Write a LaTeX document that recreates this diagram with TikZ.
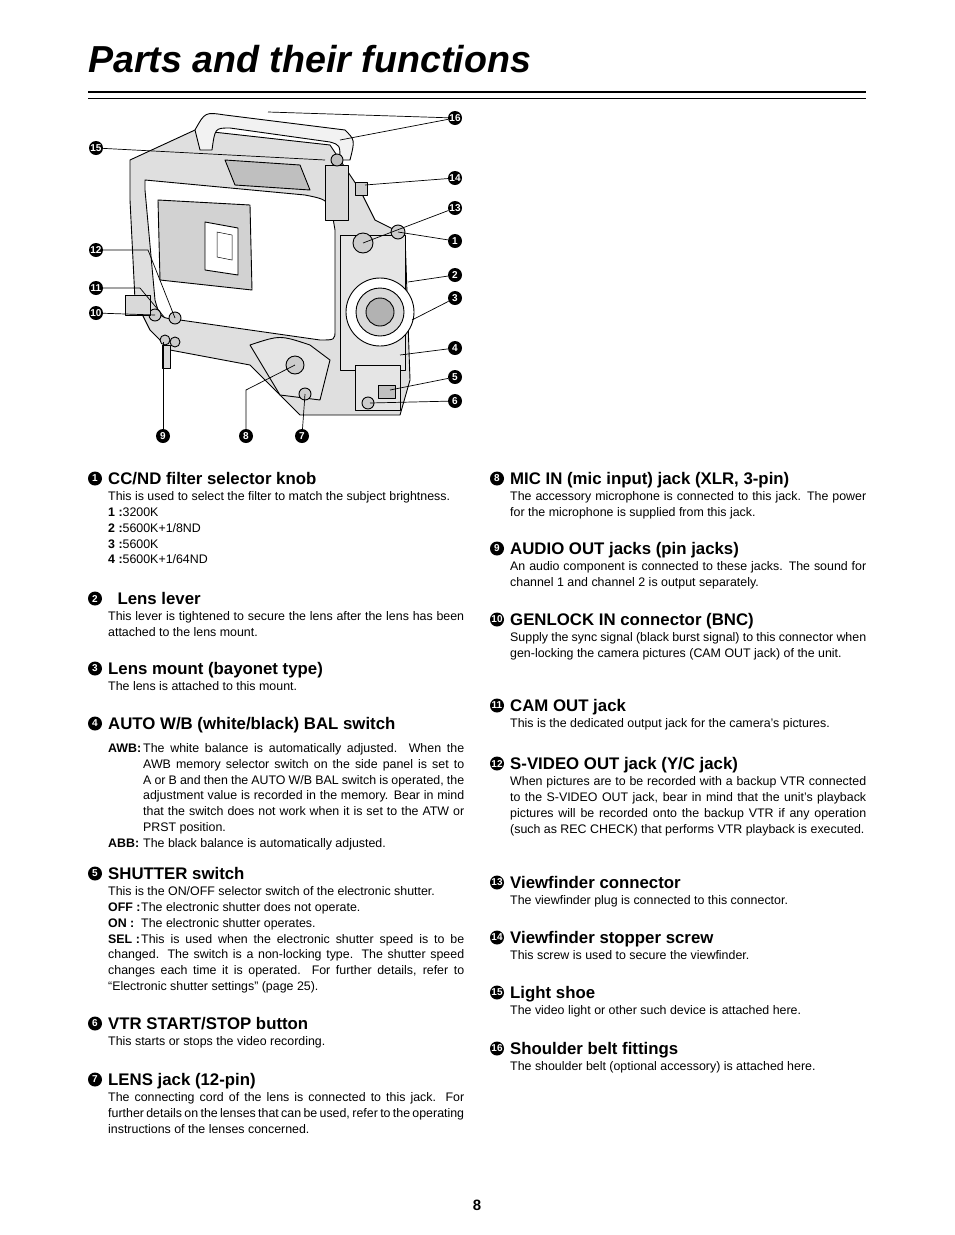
\documentclass[tikz,border=0pt]{standalone}
\usepackage{fontspec}
\setmainfont{Liberation Sans}
\newcommand{\nohy}{\hyphenpenalty 10000 \exhyphenpenalty 10000 }
\tikzset{
 hd/.style={anchor=base west,font=\fontsize{16.8}{18}\selectfont\bfseries,inner sep=0},
 bd/.style={anchor=north west,text width=356pt,align=justify,font=\fontsize{12.4}{15.8}\selectfont\nohy,inner sep=0},
 num/.style={circle,fill=black,text=white,font=\fontsize{10}{10}\selectfont\bfseries,inner sep=0,minimum size=14pt},
 cam/.style={line width=0.9pt,line join=round},
 thin/.style={line width=0.5pt},
 call/.style={line width=0.7pt}
}
\newcommand{\hg}[3]{\ifhmode\par\fi\noindent\hangindent=#1\hangafter=1\makebox[#1][l]{\textbf{#2}}#3}
\newcommand{\sect}[5]{%
 \node[num] (c#1) at (#2,#3-5.5) {#1};
 \node[hd] (h#1) at (#2+13,#3) {#4};
 \node[bd] (b#1) at (#2+13,#3+7.5) {#5};}
\begin{document}
\begin{tikzpicture}[x=1pt,y=-1pt]
\useasboundingbox (0,0) rectangle (954,1235);
\node[anchor=base west,inner sep=0,font=\fontsize{37.6}{40}\selectfont\bfseries\itshape] (title) at (88,72) {Parts and their functions};
\draw[line width=2.5pt] (88,92) -- (866,92);
\draw[line width=0.7pt] (88,98.5) -- (866,98.5);
% camera
\draw[cam,fill=gray!25] (130,160) -- (195,130) -- (330,145) -- (360,190) -- (375,220) -- (405,235) -- (410,380) -- (400,415) -- (300,415) -- (270,385) -- (250,365) -- (170,350) -- (150,330) -- (135,300) -- (130,200) -- cycle;
\draw[cam,fill=gray!10] (195,130) .. controls (205,112) .. (225,115) -- (345,130) .. controls (355,140) .. (350,160) -- (340,160) .. controls (340,145) .. (330,142) -- (230,128) .. controls (215,128) .. (212,150) -- (200,150) -- cycle;
\draw[cam,fill=white] (145,180) -- (305,195) .. controls (330,200) .. (335,230) -- (335,330) .. controls (335,340) .. (320,340) -- (180,320) .. controls (160,318) .. (155,300) -- (145,190) -- cycle;
\draw[cam,fill=gray!35] (158,200) -- (250,205) -- (252,290) -- (160,280) -- cycle;
\draw[cam,fill=white] (205,222) -- (238,228) -- (238,275) -- (205,270) -- cycle;
\draw[thin] (217,232) -- (232,235) -- (232,260) -- (217,257) -- cycle;
\draw[cam,fill=gray!50] (225,160) -- (300,165) -- (310,190) -- (235,185) -- cycle;
\draw[cam,fill=gray!20] (340,235) -- (405,235) -- (405,370) -- (340,370) -- cycle;
\draw[cam,fill=white] (380,312) circle (34);
\draw[cam,fill=gray!30] (380,312) circle (24);
\draw[cam,fill=gray!60] (380,312) circle (14);
\draw[cam,fill=gray!40] (363,243) circle (10);
\draw[cam,fill=gray!40] (398,232) circle (7);
\draw[cam,fill=gray!30] (325,165) rectangle (348,220);
\draw[cam,fill=gray!50] (337,160) circle (6);
\draw[cam,fill=gray!40] (355,182) rectangle (367,195);
\draw[cam,fill=gray!20] (250,345) .. controls (280,335) .. (310,345) -- (330,360) -- (320,400) -- (280,395) -- cycle;
\draw[cam,fill=gray!40] (295,365) circle (9);
\draw[cam,fill=gray!40] (305,394) circle (6);
\draw[cam,fill=gray!20] (355,365) rectangle (400,410);
\draw[cam,fill=gray!50] (378,385) rectangle (395,398);
\draw[cam,fill=gray!40] (368,403) circle (6);
\draw[cam,fill=gray!40] (155,315) circle (6);
\draw[cam,fill=gray!40] (175,318) circle (6);
\draw[cam,fill=gray!40] (165,340) circle (5);
\draw[cam,fill=gray!40] (175,342) circle (5);
\draw[cam,fill=gray!30] (125,295) rectangle (150,315);
\draw[cam,fill=gray!30] (162,345) rectangle (170,368);
% callouts
\node[num] (n16) at (455,118) {16};
\node[num] (n15) at (96,148) {15};
\node[num] (n14) at (455,178) {14};
\node[num] (n13) at (455,208) {13};
\node[num] (n1) at (455,241) {1};
\node[num] (n2) at (455,275) {2};
\node[num] (n3) at (455,298) {3};
\node[num] (n12) at (96,250) {12};
\node[num] (n11) at (96,288) {11};
\node[num] (n10) at (96,313) {10};
\node[num] (n4) at (455,348) {4};
\node[num] (n5) at (455,377) {5};
\node[num] (n6) at (455,401) {6};
\node[num] (n9) at (163,436) {9};
\node[num] (n8) at (246,436) {8};
\node[num] (n7) at (302,436) {7};
\coordinate (p16a) at (268,112); \coordinate (p16b) at (340,140);
\coordinate (p15) at (325,160); \coordinate (p14) at (365,185);
\coordinate (p13) at (363,243); \coordinate (p1) at (398,232);
\coordinate (p2) at (408,282); \coordinate (p3) at (412,320);
\coordinate (p12) at (175,318); \coordinate (p11) at (165,318);
\coordinate (p10) at (155,315); \coordinate (p4) at (400,355);
\coordinate (p5) at (390,390); \coordinate (p6) at (370,403);
\coordinate (p9) at (163,342); \coordinate (p8) at (295,365); \coordinate (p7) at (305,394);
\draw[call] (n16) -- (p16a); \draw[call] (n16) -- (p16b);
\draw[call] (n15) -- (p15); \draw[call] (n14) -- (p14);
\draw[call] (n13) -- (p13); \draw[call] (n1) -- (p1);
\draw[call] (n2) -- (p2); \draw[call] (n3) -- (p3);
\draw[call] (n12) -- (148,250) -- (p12); \draw[call] (n11) -- (140,288) -- (p11);
\draw[call] (n10) -- (p10); \draw[call] (n4) -- (p4);
\draw[call] (n5) -- (p5); \draw[call] (n6) -- (p6);
\draw[call] (n9) -- (p9); \draw[call] (n8) -- (246,390) -- (p8); \draw[call] (n7) -- (p7);
% left column
\sect{1}{95}{484}{CC/ND filter selector knob}{This is used to select the filter to match the subject brightness.\\\textbf{1 :}3200K\\\textbf{2 :}5600K+1/8ND\\\textbf{3 :}5600K\\\textbf{4 :}5600K+1/64ND}
\sect{2}{95}{604}{\ \ Lens lever}{This lever is tightened to secure the lens after the lens has been attached to the lens mount.}
\sect{3}{95}{674}{Lens mount (bayonet type)}{The lens is attached to this mount.}
\sect{4}{95}{729}{AUTO W/B (white/black) BAL switch}{\hg{35pt}{AWB:}{The white balance is automatically adjusted. When the AWB memory selector switch on the side panel is set to A or B and then the AUTO W/B BAL switch is operated, the adjustment value is recorded in the memory. Bear in mind that the switch does not work when it is set to the ATW or PRST position.}\hg{35pt}{ABB:}{The black balance is automatically adjusted.}}
\sect{5}{95}{879}{SHUTTER switch}{This is the ON/OFF selector switch of the electronic shutter.\hg{33pt}{OFF :}{The electronic shutter does not operate.}\hg{33pt}{ON :}{The electronic shutter operates.}\hg{33pt}{SEL :}{This is used when the electronic shutter speed is to be changed. The switch is a non-locking type. The shutter speed changes each time it is operated. For further details, refer to “Electronic shutter settings” (page 25).}}
\sect{6}{95}{1029}{VTR START/STOP button}{This starts or stops the video recording.}
\sect{7}{95}{1085}{LENS jack (12-pin)}{The connecting cord of the lens is connected to this jack. For further details on the lenses that can be used, refer to the operating instructions of the lenses concerned.}
% right column
\sect{8}{497}{484}{MIC IN (mic input) jack (XLR, 3-pin)}{The accessory microphone is connected to this jack. The power for the microphone is supplied from this jack.}
\sect{9}{497}{554}{AUDIO OUT jacks (pin jacks)}{An audio component is connected to these jacks. The sound for channel 1 and channel 2 is output separately.}
\sect{10}{497}{625}{GENLOCK IN connector (BNC)}{Supply the sync signal (black burst signal) to this connector when gen-locking the camera pictures (CAM OUT jack) of the unit.}
\sect{11}{497}{711}{CAM OUT jack}{This is the dedicated output jack for the camera’s pictures.}
\sect{12}{497}{769}{S-VIDEO OUT jack (Y/C jack)}{When pictures are to be recorded with a backup VTR connected to the S-VIDEO OUT jack, bear in mind that the unit’s playback pictures will be recorded onto the backup VTR if any operation (such as REC CHECK) that performs VTR playback is executed.}
\sect{13}{497}{888}{Viewfinder connector}{The viewfinder plug is connected to this connector.}
\sect{14}{497}{943}{Viewfinder stopper screw}{This screw is used to secure the viewfinder.}
\sect{15}{497}{998}{Light shoe}{The video light or other such device is attached here.}
\sect{16}{497}{1054}{Shoulder belt fittings}{The shoulder belt (optional accessory) is attached here.}
\node[anchor=base,inner sep=0,font=\fontsize{15}{18}\selectfont\bfseries] (pg) at (477,1210) {8};
\end{tikzpicture}
\end{document}
